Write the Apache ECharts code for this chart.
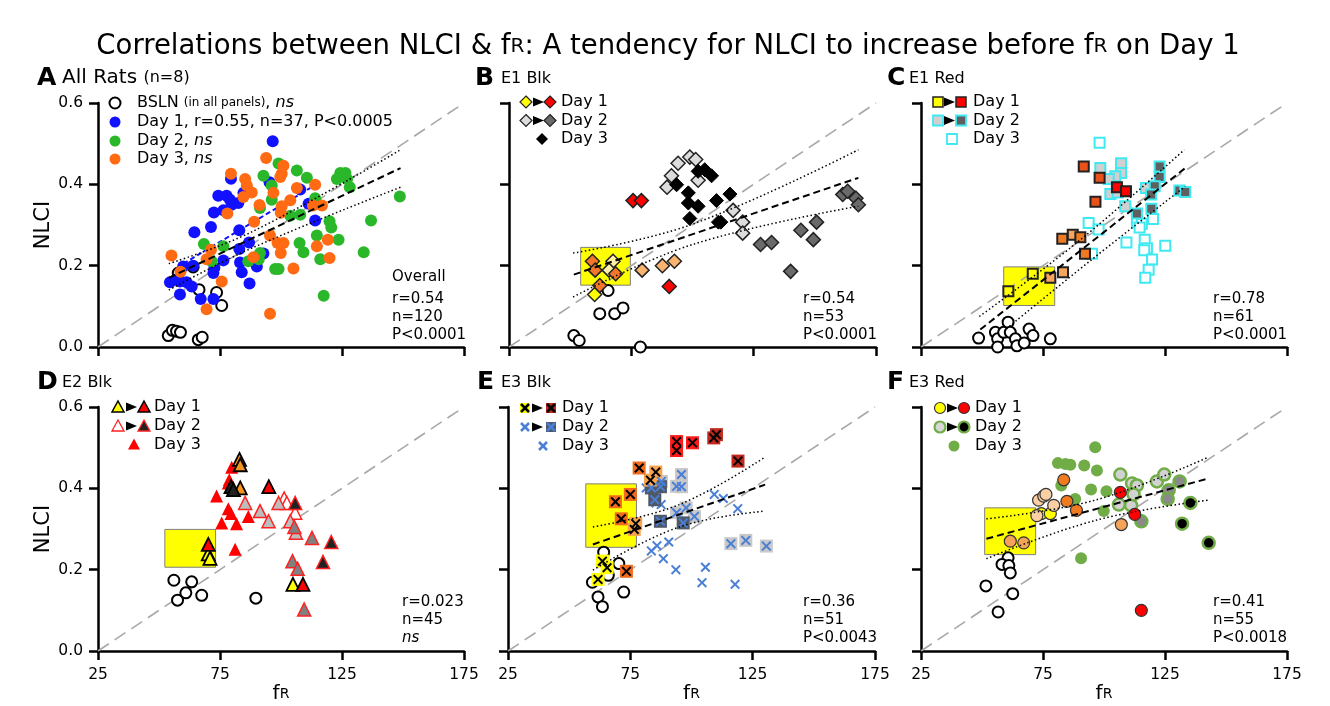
<!DOCTYPE html>
<html>
<head>
<meta charset="utf-8">
<script src="https://cdn.jsdelivr.net/npm/echarts@6/dist/echarts.min.js"></script>
<style>html,body{margin:0;padding:0;background:#fff}#main{width:1330px;height:706px}</style>
</head>
<body>
<div id="main"></div>
<script>
var myChart = echarts.init(document.getElementById('main'));
var FONT = 'DejaVu Sans';

// axis ticks
var X_TICKS = [25, 175, 50];   // min, max, step
var Y_TICKS = [0, 0.6, 0.2];
var IDENTITY = [[25, 0], [175, 0.6]];

// ---- A: All rats ----
var A_bsln = [[53.8,0.028],[55.5,0.041],[57.2,0.039],[58.8,0.036],[66.1,0.018],[67.7,0.024],[66.4,0.141],[73.6,0.134],[75.7,0.102],[57.9,0.182],[64.0,0.197]];
var A_day1 = [[96.6,0.506],[95.3,0.405],[79.5,0.414],[74.3,0.372],[77.7,0.372],[72.5,0.331],[76.4,0.336],[79.8,0.35],[82.5,0.354],[71.3,0.295],[64.5,0.282],[82.9,0.287],[86.9,0.257],[82.9,0.241],[76.4,0.213],[72.7,0.194],[72.3,0.182],[64.0,0.2],[59.9,0.198],[58.6,0.161],[61.3,0.159],[63.4,0.149],[58.6,0.129],[67.1,0.118],[72.3,0.118],[83.2,0.208],[83.9,0.184],[87.1,0.156],[90.1,0.198],[92.8,0.23],[114.0,0.311],[111.3,0.352],[107.9,0.387],[84.6,0.379],[54.5,0.159],[57.2,0.166],[79.1,0.362]];
var A_day2 = [[99.0,0.451],[106.5,0.434],[110.6,0.416],[122.9,0.413],[124.3,0.428],[127.1,0.413],[128.2,0.393],[148.7,0.370],[136.9,0.311],[133.9,0.233],[117.5,0.126],[119.9,0.309],[120.6,0.294],[123.6,0.264],[114.0,0.366],[114.7,0.352],[107.9,0.325],[103.8,0.323],[107.6,0.256],[109.2,0.233],[116.1,0.216],[114.7,0.274],[92.8,0.421],[96.2,0.397],[96.2,0.362],[97.6,0.192],[99.0,0.192],[91.4,0.231],[90.9,0.216],[86.6,0.211],[76.4,0.248],[68.4,0.253],[71.6,0.211],[126.4,0.428],[91.4,0.342]];
var A_day3 = [[93.9,0.465],[79.5,0.426],[85.3,0.413],[86.0,0.397],[88.0,0.380],[84.6,0.369],[91.2,0.349],[101.0,0.446],[100.3,0.426],[99.7,0.418],[106.5,0.391],[114.0,0.399],[103.8,0.361],[100.3,0.346],[99.9,0.330],[96.9,0.379],[78.0,0.328],[89.0,0.308],[95.5,0.274],[98.6,0.256],[101.0,0.256],[99.9,0.231],[105.1,0.193],[95.5,0.082],[88.7,0.221],[75.7,0.161],[71.3,0.239],[69.5,0.216],[69.5,0.093],[55.1,0.225],[58.8,0.185],[113.1,0.348],[114.7,0.248],[116.8,0.348],[119.2,0.264],[119.9,0.219]];
var A_fit = [[54,0.17],[149,0.44]];
var A_fitDay1 = [[60,0.205],[112,0.391]];
var A_ciHi = [[54,0.205],[88,0.283],[149,0.485]];
var A_ciLo = [[54,0.14],[88,0.243],[149,0.393]];

// ---- B: E1 Blk ----
var B_bsln = [[51.5,0.028],[53.7,0.016],[62.1,0.082],[68.2,0.082],[71.6,0.096],[65.5,0.139],[78.7,0.0]];
var B_d1Yellow = [[60.0,0.129]];
var B_d1Pale = [[67.5,0.211],[65.9,0.189]];
var B_d1Orange = [[59.1,0.211],[60.2,0.189],[68.6,0.180],[62.1,0.151]];
var B_d1LtOrange = [[79.4,0.189],[87.7,0.2],[92.6,0.211]];
var B_d1Red = [[75.7,0.36],[79.1,0.36],[90.5,0.149]];
var B_d2Light = [[94.1,0.452],[98.9,0.467],[101.3,0.461],[91.4,0.421],[89.6,0.393],[102.3,0.41],[116.6,0.336],[120.5,0.307],[120.5,0.280]];
var B_d2Dark = [[127.8,0.252],[132.3,0.257],[140.1,0.186],[144.3,0.287],[149.4,0.264],[150.7,0.307],[161.4,0.375],[163.4,0.383],[166.8,0.366],[167.8,0.35]];
var B_d3 = [[93.5,0.399],[98.3,0.379],[98.3,0.354],[102.3,0.346],[102.3,0.432],[105.0,0.436],[107.8,0.421],[109.8,0.36],[115.3,0.376],[98.9,0.316],[110.6,0.307],[111.6,0.307]];
var B_box = [[54.3,0.152],[74.6,0.245]];
var B_fit = [[51.5,0.178],[167.8,0.416]];
var B_ciHi = [[51.2,0.231],[100,0.302],[167.8,0.485]];
var B_ciLo = [[51.2,0.123],[100,0.252],[167.8,0.346]];

// ---- C: E1 Red ----
var C_bsln = [[48.6,0.022],[55.5,0.036],[56.4,0.020],[56.4,0.0],[58.9,0.036],[60.7,0.061],[61.6,0.036],[63.7,0.020],[64.3,0.003],[67.3,0.010],[69.3,0.044],[70.9,0.028],[78.0,0.020]];
var C_d1Yellow = [[60.8,0.137],[70.8,0.180]];
var C_d1LtOrange = [[78.0,0.170],[83.2,0.184],[87.2,0.276]];
var C_d1Orange = [[82.9,0.266],[90.3,0.270],[92.2,0.229]];
var C_d1DkOrange = [[91.7,0.444],[98.2,0.416],[96.5,0.357]];
var C_d1Red = [[105.3,0.393],[109.0,0.383]];
var C_d2Light = [[98.5,0.44],[107.0,0.452],[107.0,0.428],[104.6,0.420],[101.9,0.413],[102.6,0.376],[105.6,0.380],[108.7,0.346],[117.2,0.391]];
var C_d2Dark = [[122.8,0.444],[122.8,0.418],[120.8,0.395],[119.3,0.375],[119.4,0.340],[130.9,0.385],[133.3,0.381],[113.5,0.328]];
var C_d3 = [[98.2,0.502],[93.7,0.305],[97.8,0.289],[95.1,0.229],[109.2,0.257],[116.7,0.264],[113.5,0.307],[115.5,0.303],[114.6,0.294],[120.1,0.315],[125.1,0.249],[117.6,0.243],[116.5,0.238],[119.7,0.215],[118.3,0.190],[116.9,0.170]];
var C_box = [[58.9,0.102],[79.8,0.197]];
var C_fit = [[49.3,0.043],[133.3,0.44]];
var C_ciHi = [[48.9,0.075],[90,0.262],[132.9,0.485]];
var C_ciLo = [[60,0.045],[95,0.215],[133.3,0.395]];

// ---- D: E2 Blk ----
var D_bsln = [[56.1,0.174],[57.6,0.125],[61.0,0.143],[63.4,0.170],[67.5,0.137],[89.7,0.130]];
var D_d1Yellow = [[70.2,0.239],[70.9,0.228],[104.9,0.164]];
var D_d1Orange = [[83.0,0.471],[83.3,0.458],[83.3,0.401]];
var D_d1Red = [[70.2,0.262],[95.0,0.404],[109.0,0.164]];
var D_d1Dark = [[79.5,0.404],[80.5,0.397]];
var D_d2Open = [[101.3,0.375],[102.4,0.364],[105.8,0.340]];
var D_d2Light = [[85.3,0.364],[91.4,0.344],[94.9,0.319],[99.0,0.364],[103.8,0.319],[106.1,0.291]];
var D_d2Mid = [[112.7,0.278],[104.7,0.221],[106.8,0.202],[109.5,0.102],[105.5,0.305]];
var D_d2Dark = [[105.8,0.364],[120.6,0.268],[117.2,0.219]];
var D_d3 = [[79.8,0.452],[78.4,0.413],[78.8,0.421],[73.6,0.381],[78.4,0.350],[79.5,0.338],[75.7,0.315],[81.8,0.313],[86.6,0.331],[81.2,0.250]];
var D_box = [[52.4,0.206],[73.2,0.299]];

// ---- E: E3 Blk ----
var E_bsln = [[64.1,0.243],[70.3,0.215],[66.0,0.186],[59.5,0.169],[61.8,0.133],[63.6,0.109],[72.3,0.145]];
var E_d1Yellow = [[63.6,0.221],[65.5,0.205],[61.8,0.176]];
var E_d1LtOrange = [[77.2,0.313],[76.6,0.299],[83.2,0.42],[85.4,0.44]];
var E_d1Orange = [[73.4,0.196],[68.9,0.367],[71.3,0.325],[75.0,0.385],[78.6,0.450]];
var E_d1Red = [[93.9,0.515],[93.9,0.493],[100.4,0.512]];
var E_d1DkRed = [[109.1,0.524],[110.2,0.532],[119.0,0.467]];
var E_d2Light = [[95.9,0.434],[93.9,0.405],[95.9,0.404],[87.7,0.417],[93.9,0.340],[97.8,0.352],[101.2,0.331],[116.1,0.264],[122.2,0.272],[130.6,0.258]];
var E_d2Dark = [[83.6,0.401],[85.0,0.372],[87.3,0.404],[87.3,0.319],[96.6,0.315]];
var E_d3 = [[81.5,0.401],[85.5,0.364],[87.6,0.360],[109.3,0.385],[113.0,0.375],[118.9,0.350],[83.6,0.246],[85.9,0.259],[90.7,0.268],[88.5,0.227],[93.6,0.2],[105.7,0.206],[104.3,0.168],[117.8,0.164]];
var E_box = [[56.8,0.255],[77.5,0.411]];
var E_fit = [[59.7,0.262],[130.1,0.409]];
var E_ciHi = [[59.7,0.305],[95,0.36],[130.1,0.477]];
var E_ciLo = [[59.7,0.199],[95,0.305],[130.1,0.344]];

// ---- F: E3 Red ----
var F_bsln = [[60.7,0.229],[58.2,0.213],[61.0,0.210],[61.6,0.192],[51.6,0.160],[62.6,0.141],[56.6,0.096]];
var F_d1Yellow = [[74.3,0.338],[78.0,0.338]];
var F_d1Pale = [[72.5,0.333],[73.2,0.371],[75.3,0.381],[76.2,0.385],[79.4,0.358]];
var F_d1LtOrange = [[61.6,0.270],[67.1,0.266],[107.1,0.311]];
var F_d1Orange = [[83.5,0.421],[84.8,0.368],[88.7,0.346]];
var F_d1Red = [[106.7,0.390],[112.6,0.336],[115.3,0.100]];
var F_d2Light = [[106.7,0.434],[106.1,0.360],[111.1,0.358],[111.5,0.412],[113.5,0.407],[112.1,0.385],[121.7,0.417],[124.7,0.434]];
var F_d2Mid = [[115.3,0.319],[126.5,0.395],[126.1,0.374],[131.0,0.417]];
var F_d2Dark = [[135.4,0.364],[132.0,0.313],[142.9,0.266]];
var F_d3 = [[96.4,0.501],[81.1,0.462],[84.2,0.460],[86.2,0.458],[91.9,0.456],[97.1,0.444],[82.5,0.407],[94.7,0.397],[101.0,0.393],[88.2,0.374],[99.9,0.344],[90.6,0.228]];
var F_box = [[51.1,0.237],[72.0,0.352]];
var F_fit = [[51.8,0.276],[142,0.423]];
var F_ciHi = [[51.8,0.325],[97,0.372],[142.9,0.477]];
var F_ciLo = [[51.8,0.227],[97,0.322],[142.9,0.371]];

var X_MARK = 'path://M0,1.4 L1.4,0 L5,3.6 L8.6,0 L10,1.4 L6.4,5 L10,8.6 L8.6,10 L5,6.4 L1.4,10 L0,8.6 L3.6,5 Z';

function pts(p, data, symbol, size, fill, stroke, lw, z) {
  return {
    type: 'scatter', xAxisIndex: p, yAxisIndex: p, data: data,
    symbol: symbol, symbolSize: size, silent: true, z: z || 3,
    itemStyle: {color: fill, borderColor: stroke || fill, borderWidth: lw || 0, opacity: 1}
  };
}
function xbox(p, data, boxColor, xColor) {
  return [pts(p, data, 'rect', 13, boxColor, boxColor, 0, 3), pts(p, data, X_MARK, 10, xColor, xColor, 0, 4)];
}
function line(p, data, color, width, type, z, smooth) {
  return {
    type: 'line', xAxisIndex: p, yAxisIndex: p, data: data, symbol: 'none', showSymbol: false,
    smooth: smooth || false, silent: true, z: z,
    lineStyle: {color: color, width: width, type: type}
  };
}
function diag(p, box) {
  var s = line(p, IDENTITY, '#a8a8a8', 1.6, [13, 7], 2);
  if (box) {
    s.markArea = {
      silent: true,
      itemStyle: {color: '#ffff00', borderColor: '#7f7f7f', borderWidth: 1},
      data: [[{coord: box[0]}, {coord: box[1]}]]
    };
  }
  return s;
}
function fits(p, fit, hi, lo) {
  return [
    line(p, fit, '#000', 2, [7, 4], 6),
    line(p, hi, '#000', 1.5, [1.5, 2.5], 6, 0.4),
    line(p, lo, '#000', 1.5, [1.5, 2.5], 6, 0.4)
  ];
}

var grids = [
  {left: 98, top: 103, width: 366, height: 244},
  {left: 509, top: 103, width: 367, height: 244},
  {left: 921, top: 103, width: 366, height: 244},
  {left: 98, top: 407, width: 366, height: 244},
  {left: 508, top: 407, width: 367, height: 244},
  {left: 921, top: 407, width: 366, height: 244}
];

var xAxes = grids.map(function (g, i) {
  var bottom = i >= 3;
  return {
    gridIndex: i, type: 'value', min: X_TICKS[0], max: X_TICKS[1], interval: X_TICKS[2],
    axisLine: {onZero: false, lineStyle: {color: '#000', width: 2.5}},
    axisTick: {length: 9, lineStyle: {color: '#000', width: 2.5}},
    axisLabel: {show: bottom, margin: 16, fontSize: 15.5, color: '#000', fontFamily: FONT},
    splitLine: {show: false},
    name: bottom ? '{f|f}{r|R}' : '',
    nameLocation: 'middle', nameGap: 33,
    nameTextStyle: {rich: {f: {fontSize: 20, fontFamily: FONT, color: '#000'}, r: {fontSize: 14, fontFamily: FONT, color: '#000'}}}
  };
});
var yAxes = grids.map(function (g, i) {
  var left = (i === 0 || i === 3);
  return {
    gridIndex: i, type: 'value', min: Y_TICKS[0], max: Y_TICKS[1], interval: Y_TICKS[2],
    axisLine: {lineStyle: {color: '#000', width: 2.5}},
    axisTick: {length: 9, lineStyle: {color: '#000', width: 2.5}},
    axisLabel: {show: left, margin: 15, fontSize: 15.5, color: '#000', fontFamily: FONT,
      formatter: function (v) { return v.toFixed(1); }},
    splitLine: {show: false},
    name: left ? 'NLCI' : '', nameLocation: 'middle', nameRotate: 90, nameGap: 40,
    nameTextStyle: {fontSize: 21, fontFamily: FONT, color: '#000'}
  };
});

var BL = '#000';
var series = [].concat(
  // A
  diag(0), fits(0, A_fit, A_ciHi, A_ciLo),
  line(0, A_fitDay1, '#1010ff', 2, [5, 3], 2.5),
  pts(0, A_bsln, 'circle', 11, '#fff', BL, 2),
  pts(0, A_day1, 'circle', 12, '#1111ff'),
  pts(0, A_day2, 'circle', 12, '#2ab82a'),
  pts(0, A_day3, 'circle', 12, '#ff6a13'),
  // B
  diag(1, B_box), fits(1, B_fit, B_ciHi, B_ciLo),
  pts(1, B_bsln, 'circle', 11, '#fff', BL, 2),
  pts(1, B_d2Light, 'diamond', 14, '#dcdcdc', '#222', 1.5),
  pts(1, B_d2Dark, 'diamond', 14, '#6a6a6a', '#222', 1.5),
  pts(1, B_d3, 'diamond', 14, '#000', '#000', 1),
  pts(1, B_d1Yellow, 'diamond', 14, '#ffff00', '#222', 1.5),
  pts(1, B_d1Pale, 'diamond', 14, '#fff1a8', '#222', 1.5),
  pts(1, B_d1Orange, 'diamond', 14, '#f4762a', '#222', 1.5),
  pts(1, B_d1LtOrange, 'diamond', 14, '#f9b570', '#222', 1.5),
  pts(1, B_d1Red, 'diamond', 14, '#ff0000', '#222', 1.5),
  // C
  diag(2, C_box), fits(2, C_fit, C_ciHi, C_ciLo),
  pts(2, C_bsln, 'circle', 11, '#fff', BL, 2),
  pts(2, C_d3, 'rect', 10, '#fff', '#3fe9f2', 2),
  pts(2, C_d2Light, 'rect', 10, '#d0d0d0', '#3fe9f2', 2),
  pts(2, C_d2Dark, 'rect', 10, '#5f5f5f', '#3fe9f2', 2),
  pts(2, C_d1Yellow, 'rect', 10, '#ffff00', '#222', 2),
  pts(2, C_d1LtOrange, 'rect', 10, '#f7a55e', '#222', 2),
  pts(2, C_d1Orange, 'rect', 10, '#f07a22', '#222', 2),
  pts(2, C_d1DkOrange, 'rect', 10, '#e8521a', '#222', 2),
  pts(2, C_d1Red, 'rect', 10, '#ff0000', '#222', 2),
  // D
  diag(3, D_box),
  pts(3, D_bsln, 'circle', 11, '#fff', BL, 2),
  pts(3, D_d3, 'triangle', 13, '#ff0000'),
  pts(3, D_d2Open, 'triangle', 13, '#fff', '#ff2020', 1.5),
  pts(3, D_d2Light, 'triangle', 13, '#bdbdbd', '#ff2020', 1.5),
  pts(3, D_d2Mid, 'triangle', 13, '#808080', '#ff2020', 1.5),
  pts(3, D_d2Dark, 'triangle', 13, '#222', '#ff2020', 1.5),
  pts(3, D_d1Yellow, 'triangle', 13, '#ffff00', '#000', 1.8),
  pts(3, D_d1Orange, 'triangle', 13, '#f7941d', '#000', 1.8),
  pts(3, D_d1Red, 'triangle', 13, '#ff0000', '#000', 1.8),
  pts(3, D_d1Dark, 'triangle', 13, '#222', '#000', 1.8),
  // E
  diag(4, E_box), fits(4, E_fit, E_ciHi, E_ciLo),
  pts(4, E_bsln, 'circle', 11, '#fff', BL, 2),
  pts(4, E_d3, X_MARK, 10, '#4a7fd6'),
  xbox(4, E_d2Light, '#c9c9c9', '#4a7fd6'),
  xbox(4, E_d2Dark, '#4e5866', '#4a7fd6'),
  xbox(4, E_d1Yellow, '#ffff00', '#000'),
  xbox(4, E_d1LtOrange, '#f8a34e', '#000'),
  xbox(4, E_d1Orange, '#f26a1b', '#000'),
  xbox(4, E_d1Red, '#ff1a1a', '#000'),
  xbox(4, E_d1DkRed, '#c0281c', '#000'),
  // F
  diag(5, F_box), fits(5, F_fit, F_ciHi, F_ciLo),
  pts(5, F_bsln, 'circle', 11, '#fff', BL, 2),
  pts(5, F_d3, 'circle', 12, '#70ad47'),
  pts(5, F_d2Light, 'circle', 12, '#d2d2d2', '#70ad47', 2.5),
  pts(5, F_d2Mid, 'circle', 12, '#8a8a8a', '#70ad47', 2.5),
  pts(5, F_d2Dark, 'circle', 12, '#000', '#70ad47', 2.5),
  pts(5, F_d1Yellow, 'circle', 12, '#ffff00', '#333', 1.2),
  pts(5, F_d1Pale, 'circle', 12, '#fbcfa4', '#333', 1.2),
  pts(5, F_d1LtOrange, 'circle', 12, '#f6a35a', '#333', 1.2),
  pts(5, F_d1Orange, 'circle', 12, '#f07a1e', '#333', 1.2),
  pts(5, F_d1Red, 'circle', 12, '#ff0000', '#333', 1.2)
);

// ---- graphic: titles, legends, stats ----
function txt(x, y, text, size, rich, weight) {
  return {type: 'text', silent: true, style: {x: x, y: y, text: text, fontSize: size, fontFamily: FONT,
    fontWeight: weight || 'normal', fill: '#000', verticalAlign: 'middle', rich: rich || {}}};
}
function sym(kind, cx, cy, fill, stroke, lw) {
  var r = 5, st = {fill: fill, stroke: stroke || fill, lineWidth: lw || 0};
  if (kind === 'circle') return {type: 'circle', shape: {cx: cx, cy: cy, r: r + 0.5}, style: st};
  if (kind === 'diamond') return {type: 'polygon', shape: {points: [[cx, cy - 6], [cx + 6, cy], [cx, cy + 6], [cx - 6, cy]]}, style: st};
  if (kind === 'triangle') return {type: 'polygon', shape: {points: [[cx, cy - 6], [cx + 6, cy + 5], [cx - 6, cy + 5]]}, style: st};
  return {type: 'rect', shape: {x: cx - r, y: cy - r, width: 2 * r, height: 2 * r}, style: st};
}
function arrow(cx, cy) {
  return {type: 'polygon', shape: {points: [[cx - 5, cy - 4.5], [cx + 6, cy], [cx - 5, cy + 4.5]]}, style: {fill: '#000'}};
}
function xm(cx, cy, color) {
  return [
    {type: 'line', shape: {x1: cx - 4, y1: cy - 4, x2: cx + 4, y2: cy + 4}, style: {stroke: color, lineWidth: 2.5}},
    {type: 'line', shape: {x1: cx + 4, y1: cy - 4, x2: cx - 4, y2: cy + 4}, style: {stroke: color, lineWidth: 2.5}}
  ];
}
function stats(x, y0, lines, gaps) {
  var out = [], y = y0;
  lines.forEach(function (l, k) {
    out.push(txt(x, y, l, 15, {i: {fontStyle: 'italic', fontSize: 15, fontFamily: FONT}}));
    y += gaps[k] || 18.3;
  });
  return out;
}

var RSMALL = {R: {fontSize: 20, fontFamily: FONT}};
var small = {s: {fontSize: 16, fontFamily: FONT}};
var graphics = [].concat(
  // main title
  {type: 'text', silent: true, style: {x: 668, y: 47, text: 'Correlations between NLCI & f{R|R}: A tendency for NLCI to increase before f{R|R} on Day 1',
    fontSize: 27.5, fontFamily: FONT, fill: '#000', align: 'center', verticalAlign: 'middle', rich: RSMALL}},
  // panel headings
  txt(37, 78, 'A', 25, null, 'bold'), txt(62, 78, 'All Rats {s|(n=8)}', 20, small),
  txt(475, 78, 'B', 25, null, 'bold'), txt(501, 79, 'E1 Blk', 16),
  txt(887, 78, 'C', 25, null, 'bold'), txt(909, 79, 'E1 Red', 16),
  txt(37, 382, 'D', 25, null, 'bold'), txt(62, 383, 'E2 Blk', 16),
  txt(477, 382, 'E', 25, null, 'bold'), txt(501, 383, 'E3 Blk', 16),
  txt(887, 382, 'F', 25, null, 'bold'), txt(909, 383, 'E3 Red', 16),
  // legend A
  sym('circle', 115, 103, '#fff', '#000', 2),
  txt(137, 103, 'BSLN {s|(in all panels)}, {i|ns}', 16, {s: {fontSize: 12, fontFamily: FONT}, i: {fontStyle: 'italic', fontSize: 16, fontFamily: FONT}}),
  sym('circle', 115, 122, '#1111ff'), txt(137, 122, 'Day 1, r=0.55, n=37, P<0.0005', 16),
  sym('circle', 115, 141, '#2ab82a'), txt(137, 141, 'Day 2, {i|ns}', 16, {i: {fontStyle: 'italic', fontSize: 16, fontFamily: FONT}}),
  sym('circle', 115, 159, '#ff6a13'), txt(137, 159, 'Day 3, {i|ns}', 16, {i: {fontStyle: 'italic', fontSize: 16, fontFamily: FONT}}),
  // legend B
  sym('diamond', 526, 102, '#ffff00', '#222', 1.2), arrow(538, 102), sym('diamond', 550, 102, '#ff0000', '#222', 1.2), txt(561, 102, 'Day 1', 16),
  sym('diamond', 526, 120.5, '#dcdcdc', '#222', 1.2), arrow(538, 120.5), sym('diamond', 550, 120.5, '#6a6a6a', '#222', 1.2), txt(561, 120.5, 'Day 2', 16),
  sym('diamond', 542, 139, '#000'), txt(561, 139, 'Day 3', 16),
  // legend C
  sym('rect', 938, 102, '#ffff00', '#222', 1.5), arrow(949, 102), sym('rect', 961, 102, '#ff0000', '#222', 1.5), txt(973, 102, 'Day 1', 16),
  sym('rect', 938, 120.5, '#d0d0d0', '#3fe9f2', 1.8), arrow(949, 120.5), sym('rect', 961, 120.5, '#5f5f5f', '#3fe9f2', 1.8), txt(973, 120.5, 'Day 2', 16),
  sym('rect', 952, 139, '#fff', '#3fe9f2', 1.8), txt(973, 139, 'Day 3', 16),
  // legend D
  sym('triangle', 118, 407, '#ffff00', '#000', 1.5), arrow(131, 407), sym('triangle', 144, 407, '#ff0000', '#000', 1.5), txt(154, 407, 'Day 1', 16),
  sym('triangle', 118, 426, '#fff', '#ff2020', 1.3), arrow(131, 426), sym('triangle', 144, 426, '#222', '#ff2020', 1.3), txt(154, 426, 'Day 2', 16),
  sym('triangle', 134, 444.5, '#ff0000'), txt(154, 444.5, 'Day 3', 16),
  // legend E
  sym('rect', 525, 408, '#ffff00'), xm(525, 408, '#000'), arrow(537, 408), sym('rect', 551, 408, '#c0281c'), xm(551, 408, '#000'), txt(562, 408, 'Day 1', 16),
  xm(525, 427, '#4a7fd6'), arrow(537, 427), sym('rect', 551, 427, '#4e5866'), xm(551, 427, '#4a7fd6'), txt(562, 427, 'Day 2', 16),
  xm(543, 446, '#4a7fd6'), txt(562, 446, 'Day 3', 16),
  // legend F
  sym('circle', 940, 408, '#ffff00', '#333', 1.2), arrow(952, 408), sym('circle', 964, 408, '#ff0000', '#333', 1.2), txt(975, 408, 'Day 1', 16),
  sym('circle', 940, 427, '#d8d8d8', '#70ad47', 2.2), arrow(952, 427), sym('circle', 964, 427, '#000', '#70ad47', 2.2), txt(975, 427, 'Day 2', 16),
  sym('circle', 954, 446, '#70ad47'), txt(975, 446, 'Day 3', 16),
  // stats
  stats(392, 277, ['Overall', 'r=0.54', 'n=120', 'P<0.0001'], [22, 18, 18]),
  stats(803, 299, ['r=0.54', 'n=53', 'P<0.0001'], [18, 18]),
  stats(1213, 299, ['r=0.78', 'n=61', 'P<0.0001'], [18, 18]),
  stats(402, 602, ['r=0.023', 'n=45', '{i|ns}'], [18, 18]),
  stats(803, 602, ['r=0.36', 'n=51', 'P<0.0043'], [18, 18]),
  stats(1213, 602, ['r=0.41', 'n=55', 'P<0.0018'], [18, 18])
);

var option = {
  backgroundColor: '#fff',
  animation: false,
  textStyle: {fontFamily: FONT},
  grid: grids,
  xAxis: xAxes,
  yAxis: yAxes,
  series: series,
  graphic: graphics
};
myChart.setOption(option);
</script>
</body>
</html>
